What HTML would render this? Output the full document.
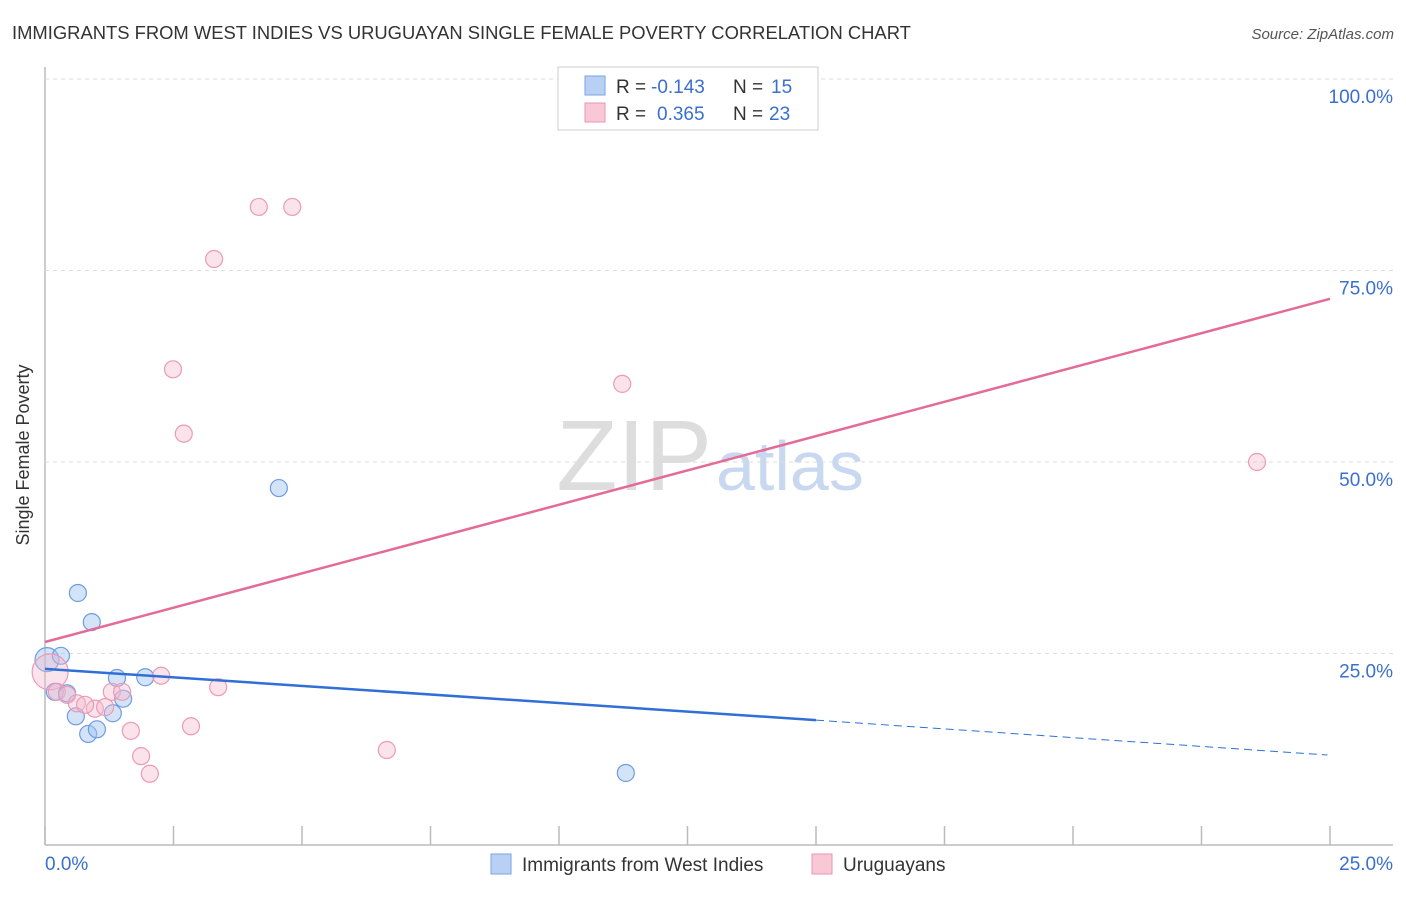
<!DOCTYPE html>
<html><head><meta charset="utf-8"><style>
body{margin:0;background:#fff;font-family:"Liberation Sans",sans-serif}
svg text{font-family:"Liberation Sans",sans-serif}
</style></head><body>
<svg id="c" width="1406" height="892">
<text x="12" y="39" font-size="18.4" fill="#333">IMMIGRANTS FROM WEST INDIES VS URUGUAYAN SINGLE FEMALE POVERTY CORRELATION CHART</text>
<text x="1394" y="39" font-size="15" fill="#555" font-style="italic" text-anchor="end">Source: ZipAtlas.com</text>
<text x="29" y="455" font-size="18" fill="#333" text-anchor="middle" transform="rotate(-90 29 455)">Single Female Poverty</text>
<text x="712" y="490" font-size="100" fill="#ddd" font-family="Liberation Serif" text-anchor="end">ZIP</text>
<text x="716" y="490" font-size="70" fill="#c8d8f0">atlas</text>
<g id="grid"></g><g id="marks"></g>
<g>
<rect x="558" y="67" width="260" height="63" fill="#fff" stroke="#ccc"/>
<rect x="585" y="76" width="20" height="19" fill="#b8d0f4" stroke="#7aa3e0"/>
<rect x="585" y="103" width="20" height="19" fill="#f8c8d6" stroke="#e896b0"/>
<text x="616" y="93" font-size="19" fill="#333">R =</text>
<text x="651" y="93" font-size="19" fill="#3a6fd0">-0.143</text>
<text x="733" y="93" font-size="19" fill="#333">N =</text>
<text x="771" y="93" font-size="19" fill="#3a6fd0">15</text>
<text x="616" y="120" font-size="19" fill="#333">R =</text>
<text x="657" y="120" font-size="19" fill="#3a6fd0">0.365</text>
<text x="733" y="120" font-size="19" fill="#333">N =</text>
<text x="769" y="120" font-size="19" fill="#3a6fd0">23</text>
</g>
<g>
<rect x="491" y="854" width="20" height="20" fill="#b8d0f4" stroke="#7aa3e0"/>
<text x="522" y="871" font-size="19" fill="#333">Immigrants from West Indies</text>
<rect x="812" y="854" width="20" height="20" fill="#f8c8d6" stroke="#e896b0"/>
<text x="843" y="871" font-size="19" fill="#333">Uruguayans</text>
</g>
</svg>
<script>
const xTicks=[0,2.5,5,7.5,10,12.5,15,17.5,20,22.5,25];
const yTicks=[25,50,75,100];
const yTickLabels=["25.0%","50.0%","75.0%","100.0%"];
const blueX=[0.04,0.31,0.19,0.43,0.64,0.91,0.60,0.84,1.01,1.40,1.32,1.52,1.95,4.55,11.30];
const blueY=[24.2,24.7,20.0,19.8,32.9,29.1,16.8,14.5,15.1,21.8,17.2,19.1,21.9,46.6,9.4];
const pinkX=[0.1,0.23,0.43,0.62,0.97,0.78,1.17,1.30,1.50,1.67,1.87,2.04,2.26,2.49,2.70,2.84,3.29,3.37,4.16,4.81,6.65,11.23,23.58];
const pinkY=[22.6,20.0,19.6,18.5,17.8,18.3,18.0,20.0,20.0,14.9,11.6,9.3,22.1,62.1,53.7,15.5,76.5,20.6,83.3,83.3,12.4,60.2,50.0];
const blueTrend=[23.0,16.3,11.75]; const blueTrendX=[0,15,24.95];
const pinkTrend=[26.5,71.3]; const pinkTrendX=[0,25];
const X=v=>45+v*51.4, Y=v=>845-v*7.66;
const NS="http://www.w3.org/2000/svg";
function mk(t,a,p){const e=document.createElementNS(NS,t);for(const k in a)e.setAttribute(k,a[k]);p.appendChild(e);return e;}
const g=document.getElementById('grid'), m=document.getElementById('marks');
let e=mk('line',{x1:45,y1:67,x2:45,y2:845,stroke:'#bbb','stroke-width':1.5},g);


e=mk('line',{x1:45,y1:845,x2:1393,y2:845,stroke:'#bbb','stroke-width':1.5},g);


yTicks.forEach((t,i)=>{
 const l=mk('line',{x1:45,y1:Y(t),x2:1393,y2:Y(t),stroke:'#ddd','stroke-dasharray':'4,4'},g);
 
 
 const tx=mk('text',{x:1393,y:Y(t)+24,'font-size':19,fill:'#3a6fd0','text-anchor':'end'},g);
 tx.textContent=yTickLabels[i];
 
 
});
xTicks.forEach(t=>{const l=mk('line',{x1:X(t),y1:826,x2:X(t),y2:845,stroke:'#bbb','stroke-width':1.5},g);
 
 });
[[0,"0.0%",'start',45],[25,"25.0%",'end',1393]].forEach(a=>{const tx=mk('text',{x:a[3],y:870,'font-size':19,fill:'#3a6fd0','text-anchor':a[2]},g);tx.textContent=a[1];
 
 });
blueX.forEach((x,i)=>{const c=mk('circle',{cx:X(x),cy:Y(blueY[i]),r:i==0?12:8.5,fill:'rgba(160,195,240,0.45)',stroke:'#6f9ce0','stroke-width':1.2},m);
 
 });
pinkX.forEach((x,i)=>{const c=mk('circle',{cx:X(x),cy:Y(pinkY[i]),r:i==0?18:8.5,fill:'rgba(246,185,205,0.4)',stroke:'#ec9ab5','stroke-width':1.2},m);
 
 });
e=mk('line',{x1:X(pinkTrendX[0]),y1:Y(pinkTrend[0]),x2:X(pinkTrendX[1]),y2:Y(pinkTrend[1]),stroke:'#e46b96','stroke-width':2.5},m);


e=mk('line',{x1:X(blueTrendX[0]),y1:Y(blueTrend[0]),x2:X(blueTrendX[1]),y2:Y(blueTrend[1]),stroke:'#2f6fd6','stroke-width':2.5},m);


e=mk('line',{x1:X(blueTrendX[1]),y1:Y(blueTrend[1]),x2:X(blueTrendX[2]),y2:Y(blueTrend[2]),stroke:'#2f6fd6','stroke-width':1,'stroke-dasharray':'8,5'},m);


</script>
</body></html>
